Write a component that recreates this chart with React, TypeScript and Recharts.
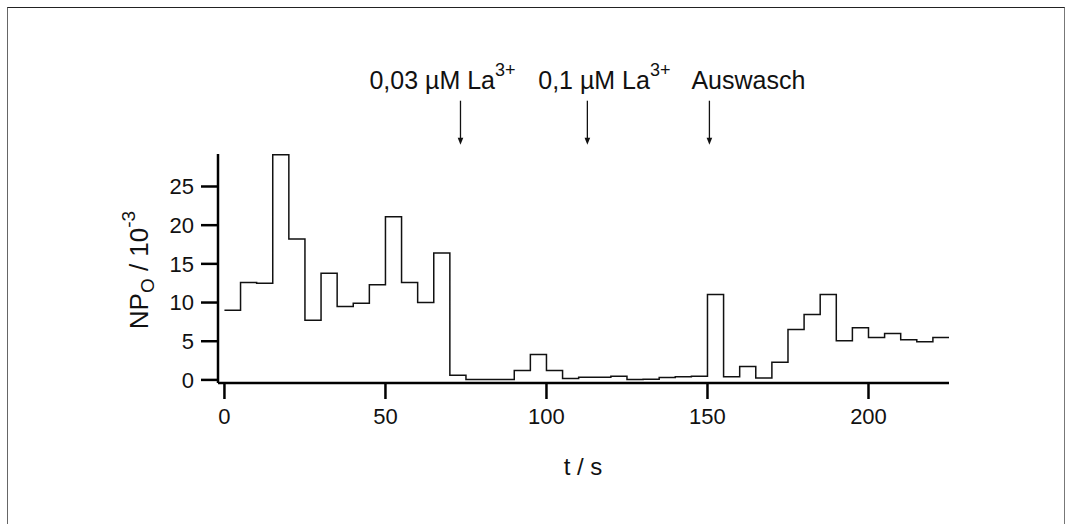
import { LineChart, Line, XAxis, YAxis, ReferenceDot } from "recharts";

// step start times (s) and NPo values (x 10^-3), 5 s bins
const times = [
  0, 5, 10, 15, 20, 25, 30, 35, 40, 45, 50, 55, 60, 65, 70, 75, 80, 85, 90, 95,
  100, 105, 110, 115, 120, 125, 130, 135, 140, 145, 150, 155, 160, 165, 170, 175,
  180, 185, 190, 195, 200, 205, 210, 215, 220, 225,
];
const npo = [
  9.0, 12.6, 12.5, 29.1, 18.2, 7.7, 13.8, 9.5, 9.9, 12.3, 21.1, 12.6, 10.0, 16.4,
  0.6, 0.05, 0.05, 0.05, 1.2, 3.3, 1.2, 0.17, 0.34, 0.34, 0.47, 0.04, 0.08, 0.3,
  0.4, 0.47, 11.05, 0.4, 1.74, 0.26, 2.27, 6.52, 8.45, 11.03, 5.06, 6.74, 5.49,
  6.0, 5.19, 4.94, 5.49, 5.49,
];

const xTicks = [0, 50, 100, 150, 200];
const yTicks = [0, 5, 10, 15, 20, 25];

// annotation arrows: time of application, label text, superscript
const arrowTimes = [73.3, 112.7, 150.6];
const arrowLabels = ["0,03 µM La", "0,1 µM La", "Auswasch"];
const arrowSups = ["3+", "3+", ""];
const labelDx = [-18, 17, 39];
const ARROW_TIP = 30.4;

const data = times.map((t, i) => ({ t, v: npo[i] }));

const FONT = "Arial, 'Liberation Sans', sans-serif";

function Arrow(props: any, i: number) {
  const { cx, cy } = props;
  return (
    <g>
      <line x1={cx} y1={cy - 44} x2={cx} y2={cy - 5} stroke="#111" strokeWidth={1.3} />
      <path d={`M${cx - 2.8},${cy - 7} L${cx + 2.8},${cy - 7} L${cx},${cy} Z`} fill="#111" />
      <text
        x={cx + labelDx[i]}
        y={cy - 56}
        textAnchor="middle"
        fontFamily={FONT}
        fontSize={25}
        fill="#111"
      >
        {arrowLabels[i]}
        {arrowSups[i] && (
          <tspan dy={-13} fontSize={18}>
            {arrowSups[i]}
          </tspan>
        )}
      </text>
    </g>
  );
}

export default function App() {
  return (
    <div
      style={{
        position: "absolute",
        left: 0,
        top: 0,
        width: 1066,
        height: 524,
        background: "#fff",
        overflow: "hidden",
      }}
    >
      <div
        style={{
          position: "absolute",
          left: 7,
          top: 7,
          width: 1056,
          height: 600,
          borderTop: "1px solid #222",
          borderLeft: "1px solid #666",
          borderRight: "1px solid #777",
        }}
      />
      <div style={{ position: "absolute", left: 0, top: 0 }}>
        <LineChart
          width={1066}
          height={524}
          data={data}
          margin={{ top: 154, right: 117, bottom: 101, left: 158 }}
        >
          <XAxis
            dataKey="t"
            type="number"
            domain={[-2, 225]}
            ticks={xTicks}
            allowDataOverflow
            height={40}
            tickSize={16}
            tickMargin={9}
            axisLine={{ stroke: "#000", strokeWidth: 2.5 }}
            tickLine={{ stroke: "#000", strokeWidth: 2.5 }}
            tick={{ fill: "#111", fontSize: 22, fontFamily: FONT }}
            label={{
              content: () => (
                <text x={583} y={475} textAnchor="middle" fontFamily={FONT} fontSize={24} fill="#111">
                  t / s
                </text>
              ),
            }}
          />
          <YAxis
            type="number"
            domain={[-0.4, 29.2]}
            ticks={yTicks}
            allowDataOverflow
            width={60}
            tickSize={17}
            tickMargin={7}
            axisLine={{ stroke: "#000", strokeWidth: 2.5 }}
            tickLine={{ stroke: "#000", strokeWidth: 2.5 }}
            tick={{ fill: "#111", fontSize: 22, fontFamily: FONT }}
            label={{
              content: () => (
                <text
                  x={148}
                  y={270}
                  transform="rotate(-90, 148, 270)"
                  textAnchor="middle"
                  fontFamily={FONT}
                  fontSize={26}
                  fill="#111"
                >
                  NP
                  <tspan fontSize={19} dy={6}>O</tspan>
                  <tspan dy={-6}> / 10</tspan>
                  <tspan fontSize={19} dy={-13}>-3</tspan>
                </text>
              ),
            }}
          />
          <Line
            type="stepAfter"
            dataKey="v"
            stroke="#111"
            strokeWidth={1.5}
            dot={false}
            isAnimationActive={false}
          />
          {arrowTimes.map((t, i) => (
            <ReferenceDot
              key={i}
              x={t}
              y={ARROW_TIP}
              ifOverflow="visible"
              shape={(p: any) => Arrow(p, i)}
            />
          ))}
        </LineChart>
      </div>
    </div>
  );
}
